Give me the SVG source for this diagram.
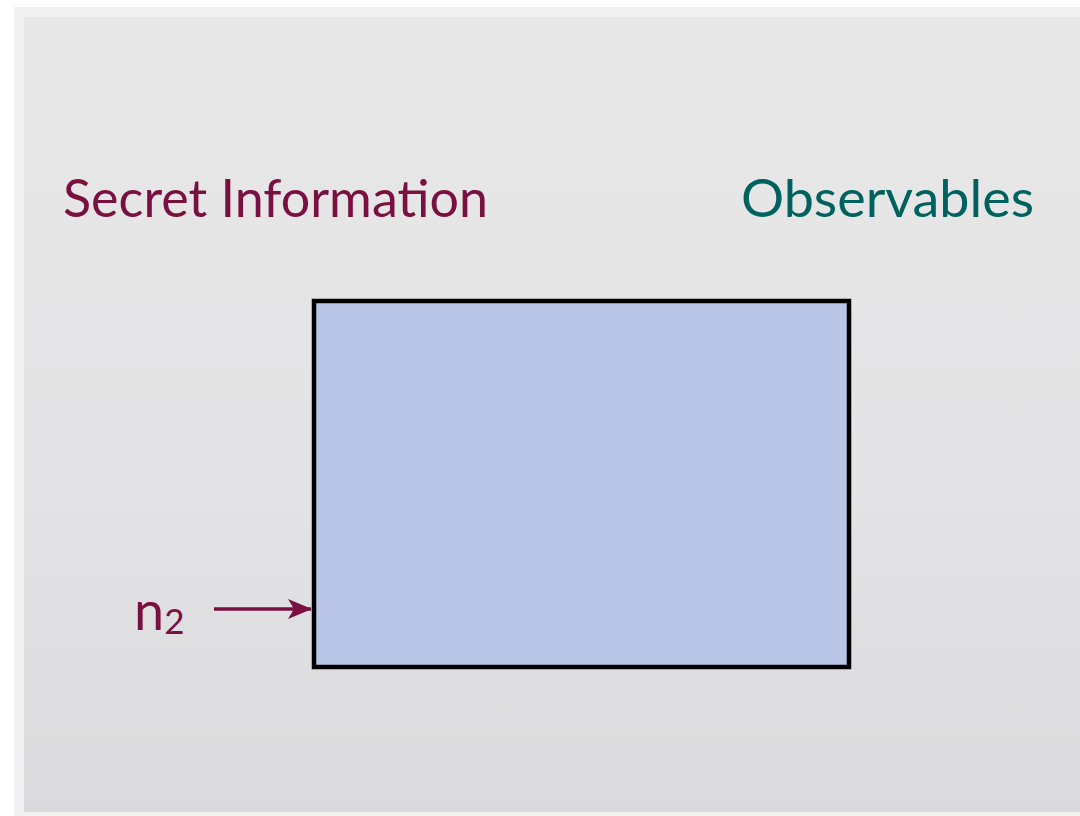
<svg xmlns="http://www.w3.org/2000/svg" width="1080" height="816" viewBox="0 0 1080 816">
  <defs>
    <linearGradient id="slideBg" x1="0" y1="0" x2="0" y2="1">
      <stop offset="0" stop-color="#e8e8e8"/>
      <stop offset="0.6" stop-color="#e3e3e5"/>
      <stop offset="1" stop-color="#dadade"/>
    </linearGradient>
    <marker id="arrowHead" markerWidth="24" markerHeight="20" refX="23" refY="10" orient="auto" markerUnits="userSpaceOnUse">
      <path d="M0,0 L24,10 L0,20 L6,10 Z" fill="#7a1040"/>
    </marker>
    <style>
      .label { font-family: "Lato", "Open Sans", "Liberation Sans", sans-serif; }
      .secret { fill: #7a1040; }
      .observ { fill: #00625f; }
    </style>
  </defs>

  <!-- page and slide frame -->
  <rect x="0" y="0" width="1080" height="816" fill="#ffffff"/>
  <rect x="14" y="7" width="1066" height="809" fill="#f1f1f2"/>
  <rect x="24" y="17" width="1056" height="795" fill="url(#slideBg)"/>

  <!-- headings -->
  <g id="secret-heading">
    <text class="label secret" x="63" y="217" font-size="53" textLength="425" lengthAdjust="spacingAndGlyphs">Secret Information</text>
  </g>
  <g id="observables-heading">
    <text class="label observ" x="741" y="217" font-size="53" textLength="293" lengthAdjust="spacingAndGlyphs">Observables</text>
  </g>

  <!-- the system box -->
  <g id="system">
    <rect x="314" y="301" width="535" height="366" fill="#bac6e8" stroke="#000000" stroke-width="4.5"/>
  </g>

  <!-- input label -->
  <g id="input-n2">
    <text class="label secret" x="134" y="630" font-size="54">n<tspan font-size="35" dy="4">2</tspan></text>
  </g>

  <!-- connectors -->
  <g id="connectors">
    <line x1="214" y1="609" x2="311" y2="609" stroke="#7a1040" stroke-width="3.5" marker-end="url(#arrowHead)"/>
  </g>
</svg>
